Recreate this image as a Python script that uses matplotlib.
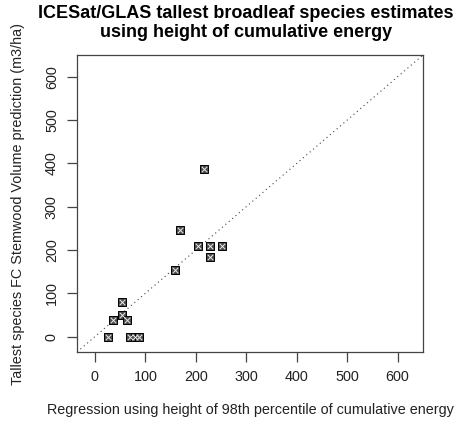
import matplotlib

matplotlib.use("Agg")
import matplotlib.pyplot as plt

# regression (98th percentile height) vs tallest species FC stemwood volume
x_reg = [216, 168, 205, 229, 252, 228, 158, 53, 53, 36, 63, 26, 70, 80, 88]
y_fc = [387, 246, 209, 209, 209, 185, 155, 79, 51, 38, 38, 0, 0, 0, 0]
ticks = [0, 100, 200, 300, 400, 500, 600]
lims = (-35.4, 650.4)

plt.rcParams["font.family"] = ["Liberation Sans", "DejaVu Sans"]

fig = plt.figure(figsize=(4.59, 4.25), dpi=100)
ax = fig.add_axes([0.1678, 0.1718, 0.7538, 0.6988])

ax.plot(lims, lims, linestyle=(0, (1, 3)), color="#444444", linewidth=0.8)
ax.scatter(x_reg, y_fc, marker="s", s=30, facecolor="#4a4a4a", edgecolor="black",
           linewidth=0.7, zorder=3)
ax.scatter(x_reg, y_fc, marker="x", s=16, color="#e8e8e8", linewidth=0.7, zorder=4)

ax.set_xlim(lims)
ax.set_ylim(lims)
ax.set_xticks(ticks)
ax.set_yticks(ticks)
ax.tick_params(axis="both", direction="out", length=7, width=0.9, color="#444444",
               labelsize=10.4, labelcolor="#222222", pad=6)
for lab in ax.get_yticklabels():
    lab.set_rotation(90)
    lab.set_va("center")
for s in ax.spines.values():
    s.set_color("#444444")
    s.set_linewidth(0.9)

fig.text(0.535, 0.988, "ICESat/GLAS tallest broadleaf species estimates\nusing height of cumulative energy",
         ha="center", va="top", fontsize=13, fontweight="bold", linespacing=1.15)
fig.text(0.545, 0.035, "Regression using height of 98th percentile of cumulative energy",
         ha="center", va="center", fontsize=10.4, color="#222222")
fig.text(0.04, 0.52, "Tallest species FC Stemwood Volume prediction (m3/ha)",
         ha="center", va="center", rotation=90, fontsize=10.4, color="#222222")

fig.savefig("out.png", dpi=100)
